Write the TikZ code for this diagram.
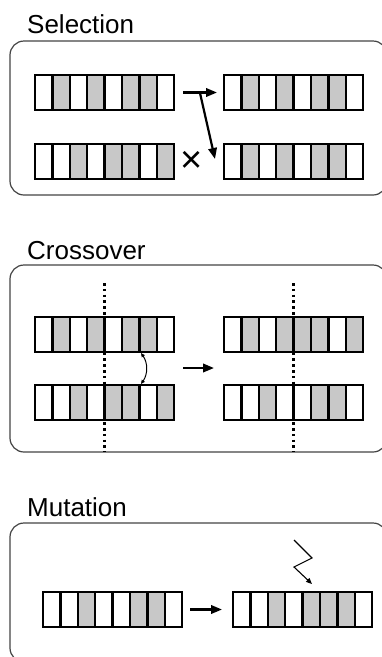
\documentclass[tikz,border=0pt]{standalone}
\usepackage{fontspec}
\setmainfont{Liberation Sans}
\usetikzlibrary{arrows.meta}
\definecolor{cellgray}{HTML}{C8C8C8}
\definecolor{boxline}{HTML}{444444}
\tikzset{
  panel/.style={draw=boxline, line width=1.2pt, rounded corners=14pt},
  title/.style={anchor=base west, inner sep=0pt, font=\fontsize{26}{30}\selectfont},
  chrom/.style={minimum width=139.2pt, minimum height=35pt, inner sep=0pt, outer sep=0pt, anchor=north west},
  cellline/.style={draw=black, line width=2.3pt},
  bigarrow/.style={line width=2.2pt, -{Triangle[length=11pt,width=8.5pt]}},
  thinarrow/.style={line width=1.1pt, -{Triangle[length=6pt,width=5pt]}},
  cutline/.style={line width=2.6pt, dash pattern=on 2.6pt off 3.2pt},
}
\newcommand\chromo[4]{%
  \node[chrom] (#1) at (#2,#3) {};
  \foreach \c [count=\i from 0] in {#4} {%
    \ifnum\c=1 \fill[cellgray] ({#2+\i*17.4},#3) rectangle ({#2+(\i+1)*17.4},{#3+35}); \fi
  }%
  \foreach \i in {1,...,7} {\draw[cellline] ({#2+\i*17.4},#3) -- ({#2+\i*17.4},{#3+35});}%
  \draw[cellline] (#1.north west) rectangle (#1.south east);
}
\begin{document}
\begin{tikzpicture}[x=1pt,y=-1pt]
\useasboundingbox (0,0) rectangle (382,657);
\clip (0,0) rectangle (382,657);
\fill[white] (0,0) rectangle (382,657);

% ---------- Selection ----------
\node[title] (tsel) at (27,33) {Selection};
\draw[panel] (10,41) rectangle (387,195);
\chromo{s1}{35}{75}{0,1,0,1,0,1,1,0}
\chromo{s2}{35}{144}{0,0,1,0,1,1,0,1}
\chromo{s3}{224}{75}{0,1,0,1,0,1,1,0}
\chromo{s4}{224}{144}{0,1,0,1,0,1,1,0}
\draw[bigarrow, shorten <=9pt, shorten >=7pt] (s1.east) -- (s3.west);
\coordinate (selbranch) at (200,93);
\coordinate (seltip) at (215,159);
\draw[bigarrow] (selbranch) -- (seltip);
\node[inner sep=0pt, font=\fontsize{38}{38}\selectfont] (xmark) at (192,162) {×};

% ---------- Crossover ----------
\node[title] (tcro) at (27,259) {Crossover};
\draw[panel] (10,265) rectangle (387,452);
\chromo{c1}{35}{317}{0,1,0,1,0,1,1,0}
\chromo{c2}{35}{385}{0,0,1,0,1,1,0,1}
\chromo{c3}{224}{317}{0,1,0,1,1,1,0,1}
\chromo{c4}{224}{385}{0,0,1,0,0,1,1,0}
\coordinate (cutAtop) at (104.6,283);
\coordinate (cutAbot) at (104.6,452);
\coordinate (cutBtop) at (293.6,283);
\coordinate (cutBbot) at (293.6,452);
\draw[cutline] (cutAtop) -- (cutAbot);
\draw[cutline] (cutBtop) -- (cutBbot);
\coordinate (swapT) at (141,353);
\coordinate (swapB) at (141,384);
\draw[line width=1pt, {Triangle[length=4pt,width=3.5pt]}-{Triangle[length=4pt,width=3.5pt]}] (swapT) to[bend left=35] (swapB);
\draw[bigarrow] (183,368) -- (214,368);

% ---------- Mutation ----------
\node[title] (tmut) at (27,516) {Mutation};
\draw[panel] (10,523) rectangle (387,662);
\chromo{m1}{43}{592}{0,0,1,0,0,1,1,0}
\chromo{m2}{233}{592}{0,0,1,0,1,1,1,0}
\draw[bigarrow, shorten <=8pt, shorten >=11pt] (m1.east) -- (m2.west);
\coordinate (z1) at (294,540);
\coordinate (z2) at (312,558);
\coordinate (z3) at (294,567);
\coordinate (z4) at (312,584);
\draw[thinarrow] (z1) -- (z2) -- (z3) -- (z4);
\end{tikzpicture}
\end{document}
